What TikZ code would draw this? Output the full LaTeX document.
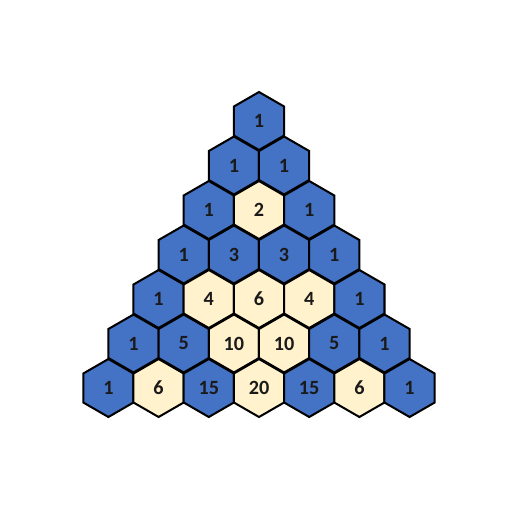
\documentclass[tikz,border=0pt]{standalone}
\usepackage{fontspec}
\setmainfont{Carlito}
\usetikzlibrary{shapes.geometric}
\definecolor{hexblue}{RGB}{68,114,196}
\definecolor{hexcream}{RGB}{255,242,204}
\definecolor{digitgray}{RGB}{26,26,26}

\begin{document}
\begin{tikzpicture}[x=0.02cm, y=-0.02cm,
  hexcell/.style={regular polygon, regular polygon sides=6, shape border rotate=30,
    minimum size=1.16cm, inner sep=0pt, draw=black, line width=1.15pt,
    text=digitgray, font=\fontsize{11.5}{13}\selectfont\bfseries},
  oddcell/.style={hexcell, fill=hexblue},
  evencell/.style={hexcell, fill=hexcream}]
  \useasboundingbox (0,0) rectangle (512,512);
  % rows of the triangle, odd entries blue
  \foreach \r in {0,...,6} {
    \foreach \k in {0,...,\r} {
      \pgfmathtruncatemacro{\val}{round(factorial(\r)/(factorial(\k)*factorial(\r-\k)))}
      \pgfmathtruncatemacro{\parity}{mod(\val,2)}
      \ifnum\parity=1 \def\cellstyle{oddcell}\else \def\cellstyle{evencell}\fi
      \node[\cellstyle] (c\r-\k) at ({259+(\k-\r/2)*50.2}, {121+\r*44.5}) {\val};
    }
  }
\end{tikzpicture}
\end{document}
